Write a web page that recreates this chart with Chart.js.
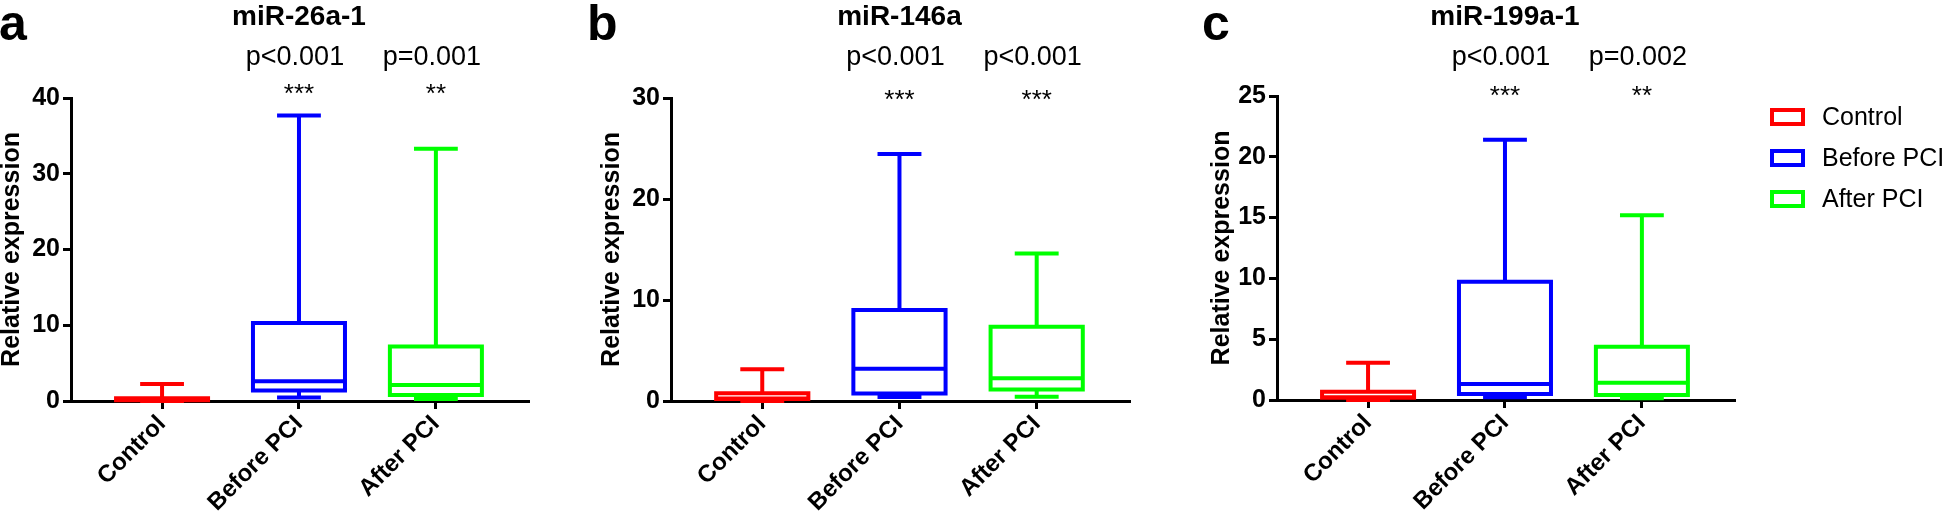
<!DOCTYPE html>
<html>
<head>
<meta charset="utf-8">
<script src="https://cdn.jsdelivr.net/npm/chart.js@4.4.0/dist/chart.umd.min.js"></script>
<style>
  html, body { margin: 0; padding: 0; background: #fff; }
  #wrap { position: relative; width: 1946px; height: 515px; overflow: hidden; }
  .panel { position: absolute; top: 0; height: 515px; }
  #pa { left: 0; width: 585px; }
  #pb { left: 585px; width: 615px; }
  #pc { left: 1200px; width: 746px; }
</style>
</head>
<body>
<div id="wrap">
  <div class="panel" id="pa"><canvas id="chartA" width="585" height="515"></canvas></div>
  <div class="panel" id="pb"><canvas id="chartB" width="615" height="515"></canvas></div>
  <div class="panel" id="pc"><canvas id="chartC" width="746" height="515"></canvas></div>
</div>
<script>
const categories = ['Control', 'Before PCI', 'After PCI'];
const groupColors = ['#ff0000', '#0000ff', '#00ff00'];

// five-number summaries: [min, q1, median, q3, max]
const mir26aControl = [0.0, 0.1, 0.2, 0.35, 2.25];
const mir26aBefore = [0.45, 1.4, 2.6, 10.3, 37.7];
const mir26aAfter = [0.25, 0.8, 2.1, 7.2, 33.3];

const mir146aControl = [0.0, 0.2, 0.25, 0.76, 3.15];
const mir146aBefore = [0.4, 0.75, 3.2, 9.0, 24.45];
const mir146aAfter = [0.43, 1.15, 2.25, 7.35, 14.6];

const mir199aControl = [0.0, 0.19, 0.22, 0.68, 3.07];
const mir199aBefore = [0.22, 0.49, 1.32, 9.73, 21.4];
const mir199aAfter = [0.14, 0.41, 1.42, 4.38, 15.2];

const panelTitles = ['miR-26a-1', 'miR-146a', 'miR-199a-1'];
const panelLetters = ['a', 'b', 'c'];
const pLabels26a = ['p<0.001', 'p=0.001'];
const pLabels146a = ['p<0.001', 'p<0.001'];
const pLabels199a = ['p<0.001', 'p=0.002'];
const stars26a = ['***', '**'];
const stars146a = ['***', '***'];
const stars199a = ['***', '**'];

const yMax = [40, 30, 25];
const yStep = [10, 10, 5];

Chart.defaults.font.family = '"Liberation Sans", Arial, sans-serif';
Chart.defaults.color = '#000';

const FONT = '"Liberation Sans", Arial, sans-serif';
const BOX_HALF = 0.336;
const CAP_HALF = 0.16;

// outline of one box-and-whisker, in data units (x = category index)
function boxPath(i, s) {
  const [min, q1, med, q3, max] = s;
  const gap = { x: i, y: null };
  return [
    { x: i, y: q1 }, { x: i + BOX_HALF, y: q1 }, { x: i + BOX_HALF, y: q3 },
    { x: i - BOX_HALF, y: q3 }, { x: i - BOX_HALF, y: q1 }, { x: i, y: q1 }, gap,
    { x: i - BOX_HALF, y: med }, { x: i + BOX_HALF, y: med }, gap,
    { x: i, y: q3 }, { x: i, y: max }, gap,
    { x: i - CAP_HALF, y: max }, { x: i + CAP_HALF, y: max }, gap,
    { x: i, y: q1 }, { x: i, y: min }, gap,
    { x: i - CAP_HALF, y: min }, { x: i + CAP_HALF, y: min }
  ];
}

function headerPlugin(p) {
  return {
    id: 'header' + p.letter,
    afterDraw(chart) {
      const ctx = chart.ctx;
      const x = chart.scales.x;
      ctx.save();
      ctx.fillStyle = '#000';
      ctx.textBaseline = 'alphabetic';
      ctx.textAlign = 'left';
      ctx.font = 'bold 50px ' + FONT;
      ctx.fillText(p.letter, p.letterX, 40);
      ctx.textAlign = 'center';
      ctx.font = 'bold 28px ' + FONT;
      ctx.fillText(p.title, x.getPixelForValue(1), 25);
      ctx.font = '27px ' + FONT;
      p.pLabels.forEach((t, k) => ctx.fillText(t, x.getPixelForValue(k + 1) - 4, 65));
      ctx.font = '26px ' + FONT;
      p.stars.forEach((t, k) => ctx.fillText(t, x.getPixelForValue(k + 1), p.starBase));
      ctx.restore();
    }
  };
}

const legendPlugin = {
  id: 'boxLegend',
  afterDraw(chart) {
    const { ctx, chartArea } = chart;
    ctx.save();
    ctx.lineWidth = 4;
    ctx.font = '25px ' + FONT;
    ctx.textBaseline = 'middle';
    ctx.textAlign = 'left';
    ctx.fillStyle = '#000';
    categories.forEach((c, k) => {
      const bx = chartArea.right + 37;
      const by = chartArea.top + 14 + k * 41;
      ctx.strokeStyle = groupColors[k];
      ctx.strokeRect(bx, by, 31, 14);
      ctx.fillText(c, chartArea.right + 87, by + 8);
    });
    ctx.restore();
  }
};

const panels = [
  { canvas: 'chartA', letter: panelLetters[0], title: panelTitles[0], series: [mir26aControl, mir26aBefore, mir26aAfter],
    pLabels: pLabels26a, stars: stars26a, yMax: yMax[0], yStep: yStep[0],
    padLeft: 0, padRight: 56, padTop: 98, yWidth: 71, xHeight: 114, letterX: -1, starBase: 102 },
  { canvas: 'chartB', letter: panelLetters[1], title: panelTitles[1], series: [mir146aControl, mir146aBefore, mir146aAfter],
    pLabels: pLabels146a, stars: stars146a, yMax: yMax[1], yStep: yStep[1],
    padLeft: 15, padRight: 70, padTop: 98, yWidth: 71, xHeight: 114, letterX: 2, starBase: 108 },
  { canvas: 'chartC', letter: panelLetters[2], title: panelTitles[2], series: [mir199aControl, mir199aBefore, mir199aAfter],
    pLabels: pLabels199a, stars: stars199a, yMax: yMax[2], yStep: yStep[2],
    padLeft: 10, padRight: 211, padTop: 96, yWidth: 67, xHeight: 115, letterX: 2, starBase: 104, legend: true }
];

function makeChart(p) {
  const datasets = p.series.map((s, i) => ({
    label: categories[i],
    data: boxPath(i, s),
    borderColor: groupColors[i],
    borderWidth: 4,
    pointRadius: 0,
    pointHoverRadius: 0,
    fill: false,
    tension: 0,
    spanGaps: false,
    clip: false,
    borderCapStyle: 'butt',
    borderJoinStyle: 'miter'
  }));

  const axisGrid = { drawOnChartArea: false, drawTicks: true, tickLength: 8, tickWidth: 3, tickColor: '#000' };
  const axisBorder = { display: true, color: '#000', width: 3 };

  const plugins = [headerPlugin(p)];
  if (p.legend) plugins.push(legendPlugin);

  return new Chart(document.getElementById(p.canvas), {
    type: 'line',
    data: { datasets },
    options: {
      responsive: false,
      animation: false,
      events: [],
      layout: { padding: { left: p.padLeft, right: p.padRight, top: p.padTop, bottom: 0 } },
      plugins: { legend: { display: false }, tooltip: { enabled: false } },
      scales: {
        x: {
          type: 'linear',
          min: -0.665,
          max: 2.68,
          afterBuildTicks: axis => { axis.ticks = categories.map((c, i) => ({ value: i })); },
          afterFit: axis => { axis.height = p.xHeight; },
          grid: axisGrid,
          border: axisBorder,
          ticks: {
            autoSkip: false,
            minRotation: 45,
            maxRotation: 45,
            padding: 1,
            color: '#000',
            font: { size: 24, weight: 'bold' },
            callback: v => categories[v]
          }
        },
        y: {
          min: 0,
          max: p.yMax,
          afterFit: axis => { axis.width = p.yWidth; },
          grid: axisGrid,
          border: axisBorder,
          ticks: { stepSize: p.yStep, padding: 3, color: '#000', font: { size: 25, weight: 'bold' } },
          title: {
            display: true,
            text: 'Relative expression',
            color: '#000',
            padding: 0,
            font: { size: 25, weight: 'bold', lineHeight: 1 }
          }
        }
      }
    },
    plugins: plugins
  });
}

panels.forEach(makeChart);
</script>
</body>
</html>
